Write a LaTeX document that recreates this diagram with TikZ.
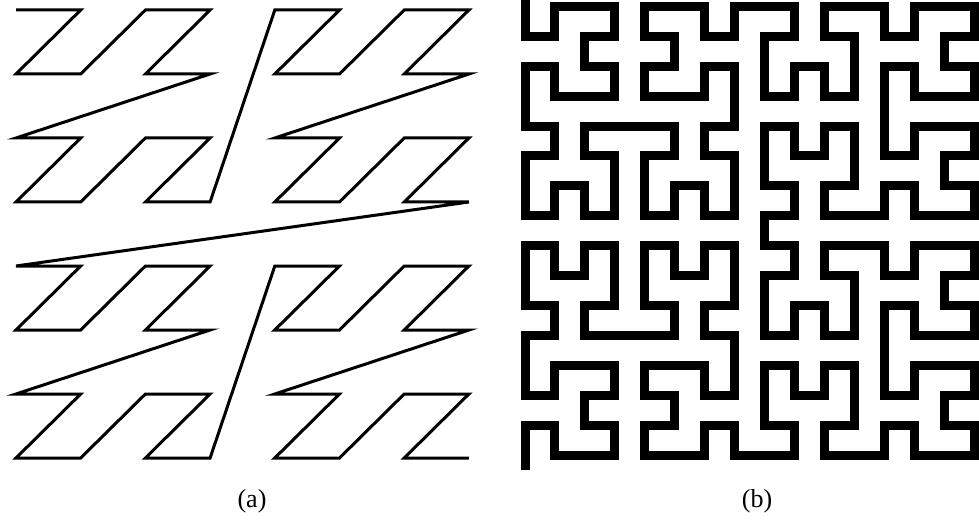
\documentclass[tikz,border=0pt]{standalone}
\usepackage{fontspec}
\setmainfont{Liberation Serif}
\usepackage{tikz}
\usetikzlibrary{lindenmayersystems}
\pgfdeclarelindenmayersystem{Hilbert curve}{
  \rule{A -> +BF-AFA-FB+}
  \rule{B -> -AF+BFB+FA-}
}

\begin{document}
\begin{tikzpicture}[
x=1pt,y=1pt,
zcurve/.style={draw,black,line width=3pt},
hcurve/.style={draw,black,line width=9pt,
  lindenmayer system={Hilbert curve,axiom=+B,order=4,step=29.95pt,angle=90}},
caption/.style={anchor=base,inner sep=0pt,font=\fontsize{26}{30}\selectfont}
]
\useasboundingbox (0,0) rectangle (979,520);
% (a) Z-order curve
\foreach \i in {0,...,63}{
  \pgfmathtruncatemacro{\col}{mod(\i,2)+2*mod(floor(\i/4),2)+4*mod(floor(\i/16),2)}
  \pgfmathtruncatemacro{\row}{mod(floor(\i/2),2)+2*mod(floor(\i/8),2)+4*mod(floor(\i/32),2)}
  \coordinate (z\i) at (16+64.7*\col,510-64*\row);
}
\draw[zcurve] (z0) \foreach \i in {1,...,63}{ -- (z\i) };
% (b) Hilbert curve
\coordinate (hstart) at (525,64.5);
\coordinate (hend) at (525,513.75);
\begin{scope}[shift={(hstart)}]
\draw[hcurve] lindenmayer system;
\end{scope}
\draw[line width=9pt] (hstart) -- ++(0,-14.5);
\draw[line width=9pt] (hend) -- ++(0,8);
\node[caption] (capa) at (252,13) {(a)};
\node[caption] (capb) at (757,13) {(b)};
\end{tikzpicture}
\end{document}
